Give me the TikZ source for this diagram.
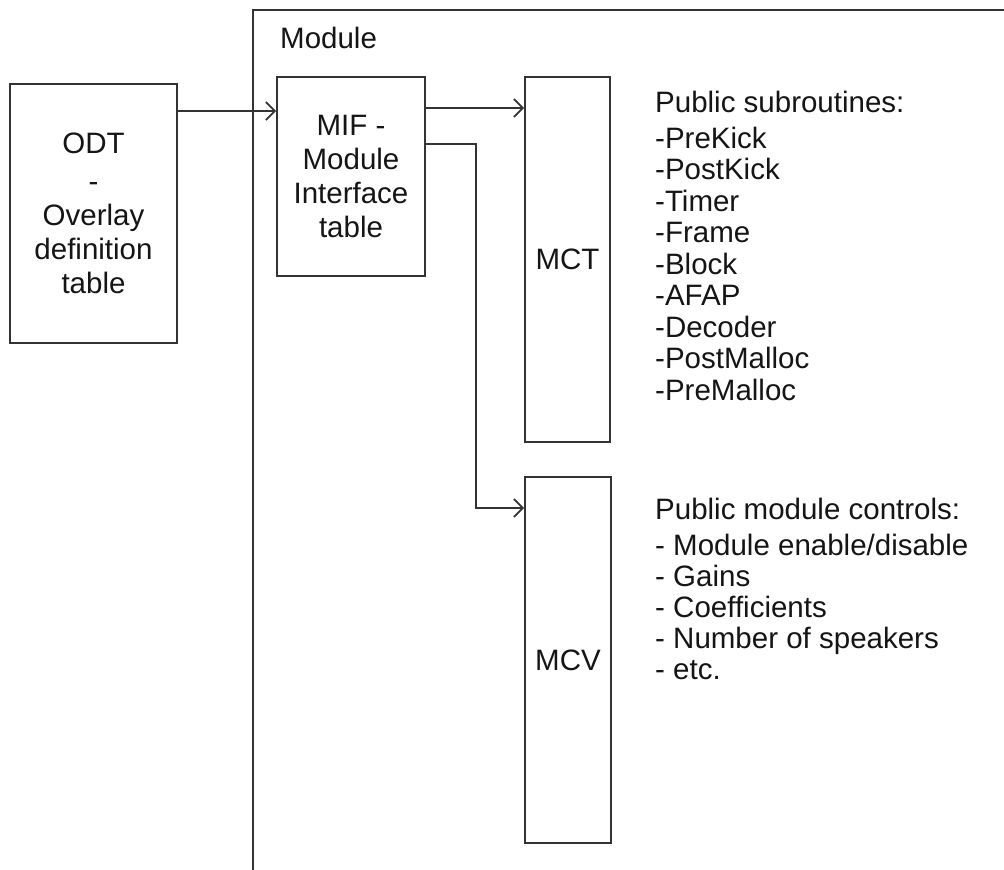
\documentclass[tikz,border=0pt]{standalone}
\usepackage{fontspec}
\setmainfont{Liberation Sans}
\usetikzlibrary{arrows.meta}
\definecolor{ln}{HTML}{333333}
\definecolor{tx}{HTML}{151515}
\tikzset{
  box/.style={draw=ln, line width=2pt, inner sep=0pt, align=center, text=tx,
    font=\fontsize{29.5}{34}\selectfont},
  lbl/.style={inner sep=0pt, anchor=base west, text=tx, font=\fontsize{29.5}{34}\selectfont},
  arr/.style={draw=ln, line width=2pt, -{Straight Barb[length=9pt,width=18pt,line width=1.6pt]}},
  wire/.style={draw=ln, line width=2pt}
}
\begin{document}
\begin{tikzpicture}[x=1pt,y=-1pt]
\useasboundingbox (0,0) rectangle (1004,870);
\fill[white] (0,0) rectangle (1004,870);
% module frame
\draw[wire] (253,872) -- (253,10) -- (1006,10);
\node[lbl] (modlbl) at (280,48) {Module};
% boxes
\node[box, minimum width=167pt, minimum height=259pt] (odt) at (93.5,213.5)
  {\raisebox{4pt}{ODT}\\-\\Overlay\\definition\\table};
\node[box, minimum width=148pt, minimum height=199pt] (mif) at (351,176.5)
  {MIF -\\Module\\Interface\\table};
\node[box, minimum width=85pt, minimum height=365pt] (mct) at (567.5,259.5) {MCT};
\node[box, minimum width=86pt, minimum height=366pt] (mcv) at (568,660) {MCV};
% connectors
\draw[arr] (odt.east |- 0,111) -- (mif.west |- 0,111);
\draw[arr] (mif.east |- 0,108) -- (mct.west |- 0,108);
\coordinate (bend) at (476,144);
\draw[arr] (mif.east |- bend) -- (bend) |- (mcv.west |- 0,508);
% lists
\node[lbl] (s0) at (655,112) {Public subroutines:};
\foreach \t [count=\i] in {-PreKick,-PostKick,-Timer,-Frame,-Block,-AFAP,-Decoder,-PostMalloc,-PreMalloc}
  \node[lbl] (s\i) at (655,{148+(\i-1)*31.5}) {\t};
\node[lbl] (c0) at (655,519) {Public module controls:};
\foreach \t [count=\i] in {- Module enable/disable,- Gains,- Coefficients,- Number of speakers,- etc.}
  \node[lbl] (c\i) at (655,{555+(\i-1)*31}) {\t};
\end{tikzpicture}
\end{document}
